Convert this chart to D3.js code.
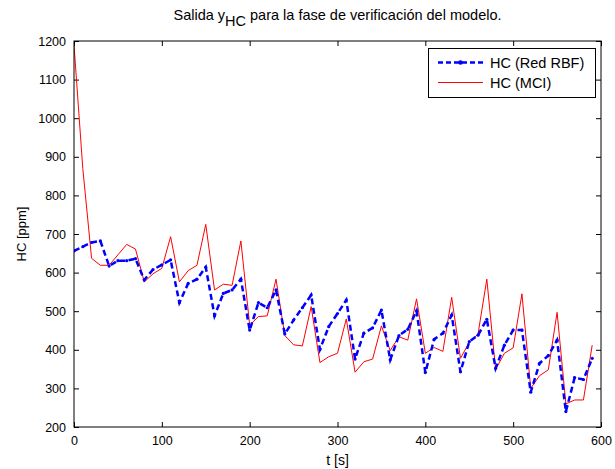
<!DOCTYPE html>
<html>
<head>
<meta charset="utf-8">
<script src="https://cdn.jsdelivr.net/npm/d3@7"></script>
<style>
  body { margin: 0; background: #fff; }
  svg { display: block; font-family: "Liberation Sans", Arial, Helvetica, sans-serif; }
</style>
</head>
<body>
<svg id="chart" width="615" height="469"></svg>
<script>
const time = d3.range(0, 600, 10);
const hcRBF = [656, 667, 678, 682, 617, 631, 631, 636, 581, 608,
  620, 633, 522, 572, 583, 614, 488, 546, 555, 583,
  451, 522, 509, 555, 441, 477, 509, 542, 401, 460,
  494, 529, 376, 443, 457, 503, 374, 437, 453, 501,
  341, 427, 443, 490, 343, 421, 438, 479, 352, 412,
  451, 451, 290, 365, 385, 425, 240, 328, 323, 378];
const hcMCI = [1190, 870, 637, 619, 619, 646, 673, 661, 576, 597,
  611, 693, 576, 605, 619, 725, 555, 570, 567, 682,
  464, 486, 488, 583, 437, 413, 410, 512, 367, 382,
  391, 480, 342, 369, 376, 462, 398, 434, 425, 532,
  391, 406, 396, 536, 378, 419, 441, 583, 349, 391,
  405, 545, 300, 333, 348, 497, 260, 270, 270, 412];
const xTicks = [0, 100, 200, 300, 400, 500, 600];
const yTicks = [200, 300, 400, 500, 600, 700, 800, 900, 1000, 1100, 1200];
const seriesNames = ["HC (Red RBF)", "HC (MCI)"];

const svg = d3.select("#chart");
const m = {left: 74, right: 14, top: 41, bottom: 42};
const W = 615, H = 469;
const x = d3.scaleLinear().domain([0, 600]).range([m.left, W - m.right]);
const y = d3.scaleLinear().domain([200, 1200]).range([H - m.bottom, m.top]);
const fmt = d3.format("d");

// axes
const tickLen = 5;
const xb = svg.append("g").attr("transform", `translate(0,${H - m.bottom})`)
  .call(d3.axisBottom(x).tickValues(xTicks).tickFormat(fmt).tickSizeInner(-tickLen).tickSizeOuter(0).tickPadding(9));
const xt = svg.append("g").attr("transform", `translate(0,${m.top})`)
  .call(d3.axisTop(x).tickValues(xTicks).tickSizeInner(-tickLen).tickSizeOuter(0).tickFormat(""));
const yl = svg.append("g").attr("transform", `translate(${m.left},0)`)
  .call(d3.axisLeft(y).tickValues(yTicks).tickFormat(fmt).tickSizeInner(-tickLen).tickSizeOuter(0).tickPadding(8));
const yr = svg.append("g").attr("transform", `translate(${W - m.right},0)`)
  .call(d3.axisRight(y).tickValues(yTicks).tickSizeInner(-tickLen).tickSizeOuter(0).tickFormat(""));
[xb, xt, yl, yr].forEach(g => {
  g.select(".domain").remove();
  g.selectAll(".tick line").attr("stroke", "#000").attr("stroke-width", 1);
  g.selectAll(".tick text").attr("fill", "#000").attr("font-size", 12.5)
    .attr("font-family", "'Liberation Sans', Arial, sans-serif");
});

// lines
const clip = svg.append("clipPath").attr("id", "clip").append("rect")
  .attr("x", m.left).attr("y", m.top).attr("width", W - m.left - m.right).attr("height", H - m.top - m.bottom);
const plot = svg.append("g").attr("clip-path", "url(#clip)");
const line = d3.line().x((d, i) => x(time[i])).y(d => y(d));
plot.append("path").datum(hcMCI).attr("d", line)
  .attr("fill", "none").attr("stroke", "#ff0000").attr("stroke-width", 1);
plot.append("path").datum(hcRBF).attr("d", line)
  .attr("fill", "none").attr("stroke", "#0000ff").attr("stroke-width", 2.5)
  .attr("stroke-dasharray", "6,3.5");
plot.selectAll("circle.rbf").data(hcRBF).enter().append("circle")
  .attr("class", "rbf").attr("cx", (d, i) => x(time[i])).attr("cy", d => y(d))
  .attr("r", 1.6).attr("fill", "#0000ff");

// frame
svg.append("rect").attr("x", m.left).attr("y", m.top)
  .attr("width", W - m.left - m.right).attr("height", H - m.top - m.bottom)
  .attr("fill", "none").attr("stroke", "#000").attr("stroke-width", 1);

// legend
const lg = svg.append("g");
lg.append("rect").attr("x", 428.5).attr("y", 48.5).attr("width", 167).attr("height", 49)
  .attr("fill", "#fff").attr("stroke", "#000").attr("stroke-width", 1);
lg.append("line").attr("x1", 438).attr("x2", 483).attr("y1", 62.5).attr("y2", 62.5)
  .attr("stroke", "#0000ff").attr("stroke-width", 2.5).attr("stroke-dasharray", "5,3");
lg.append("circle").attr("cx", 460.5).attr("cy", 62.5).attr("r", 2.3).attr("fill", "#0000ff");
lg.append("line").attr("x1", 438).attr("x2", 483).attr("y1", 82.5).attr("y2", 82.5)
  .attr("stroke", "#ff0000").attr("stroke-width", 1);
lg.append("text").attr("x", 490).attr("y", 67.5).attr("font-size", 14.5).text(seriesNames[0]);
lg.append("text").attr("x", 490).attr("y", 88).attr("font-size", 14.5).text(seriesNames[1]);

// title
const title = svg.append("text").attr("x", (m.left + W - m.right) / 2).attr("y", 20)
  .attr("text-anchor", "middle").attr("font-size", 14.5);
title.append("tspan").text("Salida y");
title.append("tspan").attr("dy", 6).text("HC");
title.append("tspan").attr("dy", -6).text(" para la fase de verificación del modelo.");

// axis labels
svg.append("text").attr("x", (m.left + W - m.right) / 2).attr("y", 465)
  .attr("text-anchor", "middle").attr("font-size", 14).text("t [s]");
svg.append("text").attr("transform", `translate(26,${(m.top + H - m.bottom) / 2}) rotate(-90)`)
  .attr("text-anchor", "middle").attr("font-size", 13).text("HC [ppm]");
</script>
</body>
</html>
